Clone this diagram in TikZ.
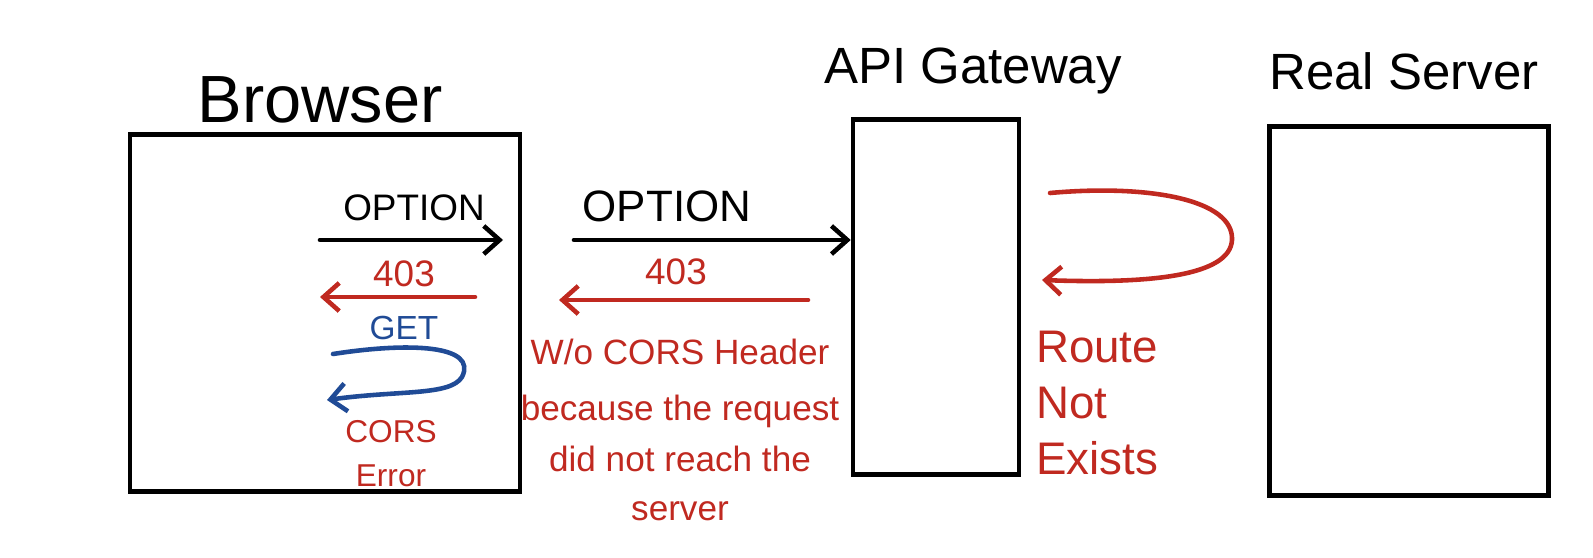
\documentclass[tikz,border=0pt]{standalone}
\usepackage{fontspec}
\setmainfont{Liberation Sans}
\usetikzlibrary{arrows.meta}
\definecolor{penred}{RGB}{192,41,32}
\definecolor{penblue}{RGB}{32,75,150}

\begin{document}
\begin{tikzpicture}[x=0.02cm,y=-0.02cm]
		\useasboundingbox (0,0) rectangle (1593,558);
		\tikzset{box/.style={draw=black,line width=2.6pt,inner sep=0pt},
		         pen/.style={line width=2.6pt,line cap=round},
		         >={Straight Barb[length=9pt,width=16pt,line width=2.6pt]}}
		% boxes and their titles
		\begin{scope}
		    \node[box,minimum width=7.8cm,minimum height=7.14cm] (browser) at (325,313) {};
		    \node[box,minimum width=3.32cm,minimum height=7.1cm] (gateway) at (936,297) {};
		    \node[box,minimum width=5.58cm,minimum height=7.38cm] (server) at (1409,311) {};
		    \node[font=\fontsize{38}{40}\selectfont] (browsertitle) at (320,100) {Browser};
		    \node[font=\fontsize{29}{31}\selectfont] (gatewaytitle) at (973,71) {API Gateway};
		    \node[font=\fontsize{29}{31}\selectfont] (servertitle) at (1404,71) {Real Server};
		\end{scope}
		
		% browser side
		\begin{scope}[every node/.style={inner sep=1pt}]
		    \coordinate (bopt1) at (320,240);
		    \coordinate (bopt2) at (503,240);
		    \coordinate (b4031) at (475,297);
		    \coordinate (b4032) at (320,297);
		    \coordinate (bget1) at (333,354);
		    \coordinate (bget2) at (327,400);
		    \node[font=\fontsize{21}{23}\selectfont] (boption) at (414,208) {OPTION};
		    \node[font=\fontsize{21}{23}\selectfont,text=penred] (b403) at (404,274) {403};
		    \node[font=\fontsize{19}{21}\selectfont,text=penblue] (bget) at (404,328) {GET};
		    \node[font=\fontsize{18}{20}\selectfont,text=penred] (bcors) at (391,432) {CORS};
		    \node[font=\fontsize{18}{20}\selectfont,text=penred] (berror) at (391,476) {Error};
		    \draw[pen,->] (bopt1) -- (bopt2);
		    \draw[pen,penred,->] (b4031) -- (b4032);
		    \draw[pen,penblue,->] (bget1) .. controls (410,342) and (478,345) .. (462,377)
		        .. controls (450,396) and (400,390) .. (bget2);
		\end{scope}
		
		% between browser and gateway
		\begin{scope}[every node/.style={inner sep=1pt}]
		    \coordinate (gopt1) at (574,240);
		    \coordinate (g4031) at (808,300);
		    \coordinate (g4032) at (559,300);
		    \node[font=\fontsize{25}{27}\selectfont] (goption) at (667,206) {OPTION};
		    \node[font=\fontsize{21}{23}\selectfont,text=penred] (g403) at (676,272) {403};
		    \node[text=penred,font=\fontsize{20}{22}\selectfont,align=center] (gwhy) at (680,430)
		        {W/o CORS Header\\[10pt]because the request\\[7pt]did not reach the\\[6pt]server};
		    \draw[pen,->] (gopt1) -- (gopt1 -| gateway.west);
		    \draw[pen,penred,->] (g4031) -- (g4032);
		\end{scope}
		
		% gateway loop
		\begin{scope}[every node/.style={inner sep=1pt}]
		    \coordinate (rout) at (1050,193);
		    \coordinate (rin) at (1042,280);
		    \node[font=\fontsize{26}{28}\selectfont,text=penred,anchor=west,align=left] (route) at (1034,403)
		        {Route\\[4pt]Not\\[4pt]Exists};
		    \draw[pen,penred,->] (rout) .. controls (1150,184) and (1234,200) .. (1232,240)
		        .. controls (1230,276) and (1150,284) .. (rin);
		\end{scope}
\end{tikzpicture}
\end{document}
